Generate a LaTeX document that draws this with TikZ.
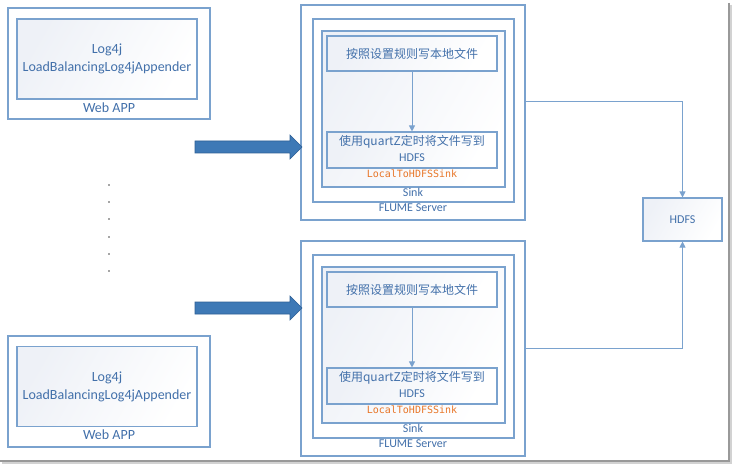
\documentclass[tikz,border=0pt]{standalone}
\usepackage{fontspec}
\setmainfont{Carlito}
\newfontfamily\cjk{Noto Sans CJK SC}
\newfontfamily\monofont{DejaVu Sans Mono}
\usetikzlibrary{arrows.meta,calc}
\definecolor{bline}{RGB}{122,162,206}
\definecolor{btext}{RGB}{66,112,170}
\definecolor{barrow}{RGB}{62,121,182}
\definecolor{barrowd}{RGB}{46,96,150}
\definecolor{orng}{RGB}{232,118,40}
\definecolor{shadetl}{RGB}{238,241,247}
\tikzset{
  box/.style={draw=bline, line width=1.1pt, rectangle, inner sep=0pt,
    left color=shadetl, right color=white, shading angle=60},
  plainbox/.style={draw=bline, line width=1.1pt, rectangle, inner sep=0pt, fill=white},
  lbl/.style={text=btext, font=\fontsize{12}{14}\selectfont, inner sep=0pt},
  biglbl/.style={text=btext, font=\fontsize{14}{18}\selectfont, inner sep=0pt, align=center},
  cjklbl/.style={text=btext, font=\cjk\fontsize{12}{16}\selectfont, inner sep=0pt, align=center},
  monolbl/.style={text=orng, font=\monofont\fontsize{10}{12}\selectfont, inner sep=0pt},
  conn/.style={draw=bline, line width=1pt, -{Triangle[length=6pt,width=6pt]}},
  dot/.style={fill=gray!70, minimum size=2pt, inner sep=0pt, rectangle},
  fatarrow/.style={fill=barrow, draw=barrowd, line width=0.6pt}
}
\begin{document}
\begin{tikzpicture}[x=1pt,y=-1pt]
\useasboundingbox (0,0) rectangle (733,465);
\fill[white] (0,0) rectangle (733,465);
% frame shadow
\draw[gray!80, line width=1.6pt] (729,3) -- (729,461) -- (0,461);
\draw[gray!35, line width=1.2pt] (731,5) -- (731,463) -- (2,463);

% ---- Web APP top
\node[plainbox, minimum width=202, minimum height=111] (wa1) at (109,63.5) {};
\node[box, minimum width=180, minimum height=80] (wa1in) at (107,59) {};
\node[biglbl] (wa1t) at (wa1in.center) {Log4j\\LoadBalancingLog4jAppender};
\node[biglbl] (wa1l) at (109,108) {Web APP};

% ---- Web APP bottom
\node[plainbox, minimum width=202, minimum height=111] (wa2) at (109,391.5) {};
\node[box, minimum width=180, minimum height=80] (wa2in) at (107,386.5) {};
\node[biglbl] (wa2t) at (wa2in.center) {Log4j\\LoadBalancingLog4jAppender};
\node[biglbl] (wa2l) at (109,435) {Web APP};

% dots
\foreach \i in {0,...,5} {
  \node[dot] (d\i) at (109,185+17.2*\i) {};
}

% ---- FLUME top
\node[plainbox, minimum width=224, minimum height=215] (fs1) at (413,112.5) {};
\node[plainbox, minimum width=201, minimum height=183] (fs1b) at (413.5,110.5) {};
\node[box, minimum width=183, minimum height=156] (sink1) at (413.5,109) {};
\node[box, minimum width=170, minimum height=35] (a1) at (412,53.5) {};
\node[cjklbl] (a1t) at (a1.center) {按照设置规则写本地文件};
\node[box, minimum width=170, minimum height=36] (b1) at (412,150) {};
\node[cjklbl] (b1t) at (412,142) {使用quartZ定时将文件写到};
\node[lbl] (b1h) at (412,157.5) {HDFS};
\node[monolbl] (l1) at (412,174) {LocalToHDFSSink};
\node[lbl] (s1) at (413,192) {Sink};
\node[lbl] (f1) at (413,208) {FLUME Server};
\draw[conn] (a1.south) -- (b1.north);

% ---- FLUME bottom
\node[plainbox, minimum width=224, minimum height=215] (fs2) at (413,348.5) {};
\node[plainbox, minimum width=201, minimum height=183] (fs2b) at (413.5,346.5) {};
\node[box, minimum width=183, minimum height=156] (sink2) at (413.5,345) {};
\node[box, minimum width=170, minimum height=35] (a2) at (412,289.5) {};
\node[cjklbl] (a2t) at (a2.center) {按照设置规则写本地文件};
\node[box, minimum width=170, minimum height=36] (b2) at (412,386) {};
\node[cjklbl] (b2t) at (412,378) {使用quartZ定时将文件写到};
\node[lbl] (b2h) at (412,393.5) {HDFS};
\node[monolbl] (l2) at (412,410) {LocalToHDFSSink};
\node[lbl] (s2) at (413,428) {Sink};
\node[lbl] (f2) at (413,444) {FLUME Server};
\draw[conn] (a2.south) -- (b2.north);

% ---- HDFS
\node[box, minimum width=79, minimum height=43] (hdfs) at (682.5,219.5) {};
\node[lbl] (hdfst) at (hdfs.center) {HDFS};
\draw[conn] ([yshift=10.5pt]fs1.east) -| (hdfs.north);
\draw[conn] (fs2.east) -| (hdfs.south);

% ---- block arrows
\fill[fatarrow] (195,141) -- (290,141) -- (290,135) -- (302,147) -- (290,159) -- (290,153) -- (195,153) -- cycle;
\fill[fatarrow] (195,302) -- (290,302) -- (290,296) -- (302,308) -- (290,320) -- (290,314) -- (195,314) -- cycle;
\end{tikzpicture}
\end{document}
